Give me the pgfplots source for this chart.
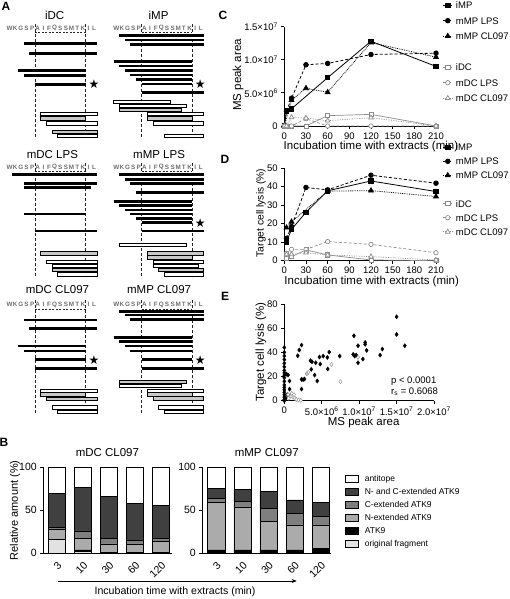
\documentclass[border=0pt]{standalone}
\usepackage{fontspec}
\setmainfont{Liberation Sans}
\newfontfamily\dejavu{DejaVu Sans}
\usepackage{pgfplots}
\pgfplotsset{compat=1.18}
\usetikzlibrary{arrows.meta}
\definecolor{gline}{HTML}{8C8C8C}
\definecolor{obgray}{HTML}{C8C8C8}
\definecolor{cOrig}{HTML}{E2E2E2}
\definecolor{cN}{HTML}{ABABAB}
\definecolor{cC}{HTML}{7F7F7F}
\definecolor{cNC}{HTML}{404040}
\definecolor{resgray}{HTML}{6E6E6E}
\newcommand\fs[1]{\fontsize{#1}{#1}\selectfont}
\tikzset{res/.style={font=\bfseries\fs{6.3}, text=resgray, inner sep=0pt},
 ttl/.style={font=\fs{11.5}, inner sep=0pt},
 star/.style={font=\dejavu\fs{12}, inner sep=0pt},
 lab/.style={font=\fs{11.5}, inner sep=0pt}}
\pgfplotsset{
 panelA/.style={scale only axis, axis lines=none, xmin=0, xmax=16, y dir=reverse, width=90.1pt, height=120pt, clip=false, anchor=north west},
 gp/.style={scale only axis, anchor=south west, axis x line*=bottom, axis y line*=left, tick align=outside, major tick length=3pt, axis line style={line width=0.8pt}, tick style={line width=0.8pt, black}, clip=false, /pgf/number format/assume math mode=true, tick label style={font=\fs{9.5}}, enlargelimits=false, scaled ticks=false},
 linleg/.style={legend image code/.code={\draw[mark repeat=2,mark phase=2,##1] plot coordinates {(0pt,0pt)(4.5pt,0pt)(9pt,0pt)};}, legend cell align=left},
 barleg/.style={legend image code/.code={\draw[##1,line width=0.6pt] (0pt,-3.2pt) rectangle (13pt,3.2pt);}},
 sIMP/.style={black, line width=0.8pt, mark=square*, mark size=2.2pt, mark options={solid}},
 sMLPS/.style={black, line width=0.8pt, dash pattern=on 3pt off 2pt, mark=*, mark size=2.3pt, mark options={solid}},
 sMCL/.style={black, line width=0.8pt, densely dotted, mark=triangle*, mark size=2.8pt, mark options={solid}},
 sIDC/.style={gline, line width=0.7pt, mark=square*, mark size=2.1pt, mark options={solid, fill=white}},
 sDLPS/.style={gline, line width=0.7pt, dash pattern=on 3pt off 2pt, mark=*, mark size=2.2pt, mark options={solid, fill=white}},
 sDCL/.style={gline, line width=0.7pt, densely dotted, mark=triangle*, mark size=2.7pt, mark options={solid, fill=white}},
 barB/.style={scale only axis, anchor=south west, ybar stacked, bar width=17.3pt, ymin=0, ymax=100, xmax=4.4, enlargelimits=false, axis x line*=bottom, axis y line*=left, tick align=outside, ytick={0,50,100}, xtick={0,...,4}, xticklabels={3,10,30,60,120}, major tick length=3pt, axis line style={line width=0.8pt}, tick style={line width=0.8pt, black}, xtick style={draw=none}, height=86pt, tick label style={font=\fs{10.5}}, xticklabel style={rotate=45, anchor=north east}, title style={font=\fs{11.5}, anchor=base, at={(0.5,1)}, yshift=4.9pt}, every axis plot/.append style={draw=black, line width=0.6pt, barleg}, /pgf/number format/assume math mode=true, clip=false}
}
\newcommand\bb[3]{\addplot[black, line width=2.7pt] coordinates {(#1,#3)(#2,#3)};}
\newcommand\ob[4]{\pgfmathsetmacro\ya{#3-1.6}\pgfmathsetmacro\yb{#3+1.6}%
 \addplot[draw=black, line width=0.55pt, fill=#4] coordinates {(#1,\ya)(#2,\ya)(#2,\yb)(#1,\yb)} --cycle;}
\newcommand\dframe[3]{%
 \addplot[black!85, line width=0.35pt, dash pattern=on 3pt off 2pt] coordinates {(5,#1)(5,#2)};
 \addplot[black!85, line width=0.35pt, dash pattern=on 3pt off 2pt] coordinates {(14,#1)(14,#2)};
 \addplot[black!85, line width=0.35pt, dash pattern=on 2pt off 1.5pt] coordinates {(5,#3)(14,#3)};}
\newcommand\resrow[1]{%
 \node[res] at (axis cs:0.5,#1) {W};\node[res] at (axis cs:1.5,#1) {K};
 \node[res] at (axis cs:2.5,#1) {G};\node[res] at (axis cs:3.5,#1) {S};
 \node[res] at (axis cs:4.5,#1) {P};\node[res] at (axis cs:5.5,#1) {A};
 \node[res] at (axis cs:6.5,#1) {I};\node[res] at (axis cs:7.5,#1) {F};
 \node[res] at (axis cs:8.5,#1) {Q};\node[res] at (axis cs:9.5,#1) {S};
 \node[res] at (axis cs:10.5,#1) {S};\node[res] at (axis cs:11.5,#1) {M};
 \node[res] at (axis cs:12.5,#1) {T};\node[res] at (axis cs:13.5,#1) {K};
 \node[res] at (axis cs:14.5,#1) {I};\node[res] at (axis cs:15.5,#1) {L};}
\begin{document}
\begin{tikzpicture}
\useasboundingbox (0,0) rectangle (509pt,599pt);
% panel letters
\node[font=\bfseries\fs{12}] at (6pt,593pt) {A};
\node[font=\bfseries\fs{12}] at (4pt,157pt) {B};
\node[font=\bfseries\fs{12}] at (223pt,584pt) {C};
\node[font=\bfseries\fs{12}] at (225pt,440pt) {D};
\node[font=\bfseries\fs{12}] at (225pt,302.3pt) {E};

% ===== Panel A, row 1
\begin{axis}[panelA, at={(6.8pt,579pt)}, ymin=20, ymax=140]
\node[ttl] at (axis cs:8.5,15) {iDC};
\resrow{28}
\dframe{24}{138}{32.3}
\bb{3}{16}{43.7}\bb{4}{16}{53.3}\bb{2}{14}{70.7}\bb{3}{14}{75.3}\bb{5}{14}{84.3}
\node[star] at (axis cs:15.5,84.3) {★};
\ob{6}{16}{114}{white}\ob{6}{14}{118.3}{obgray}\ob{7}{16}{123.3}{white}
\ob{8}{16}{131.7}{obgray}\ob{9}{16}{136}{white}
\end{axis}
\begin{axis}[panelA, at={(113.5pt,579pt)}, ymin=20, ymax=140]
\node[ttl] at (axis cs:8,15) {iMP};
\resrow{28}
\dframe{24}{138}{32.3}
\bb{1}{16}{35.7}\bb{2}{16}{40}\bb{3}{16}{44.3}
\bb{0}{14}{61.7}\bb{1}{14}{66}\bb{2}{14}{70.7}\bb{3}{14}{75}\bb{4}{14}{79.3}\bb{5}{14}{84}
\bb{5}{16}{92.7}
\node[star] at (axis cs:15.4,84.3) {★};
\ob{0}{10}{101.7}{white}\ob{1}{13}{106}{white}\ob{1}{12}{110}{obgray}
\ob{6}{16}{114}{white}\ob{6}{14}{118.3}{obgray}\ob{7}{16}{123.3}{white}\ob{9}{16}{136}{white}
\end{axis}
% ===== Panel A, row 2
\begin{axis}[panelA, at={(6.8pt,439pt)}, ymin=160, ymax=280]
\node[ttl] at (axis cs:8.1,155) {mDC LPS};
\resrow{167}
\dframe{163}{278}{171.3}
\bb{1}{16}{174.3}\bb{3}{16}{183.3}\bb{3}{15}{187.7}\bb{3}{14}{214}\bb{5}{16}{231}
\ob{6}{16}{253.3}{obgray}\ob{7}{16}{262}{white}\ob{8}{16}{266}{white}
\ob{8}{16}{270}{obgray}\ob{9}{16}{274.3}{white}
\end{axis}
\begin{axis}[panelA, at={(113.5pt,439pt)}, ymin=160, ymax=280]
\node[ttl] at (axis cs:8.1,155) {mMP LPS};
\resrow{167}
\dframe{163}{278}{171.3}
\bb{1}{16}{174.3}\bb{2}{16}{179.3}\bb{3}{16}{183.3}\bb{4}{16}{192.3}
\bb{0}{14}{201.7}\bb{1}{14}{205.7}\bb{2}{14}{210}\bb{3}{14}{214}\bb{4}{14}{218.3}\bb{5}{14}{222.7}
\bb{5}{16}{231}
\node[star] at (axis cs:15.4,223.3) {★};
\ob{1}{13}{245}{white}\ob{6}{16}{253.3}{obgray}\ob{6}{14}{257.3}{obgray}
\ob{7}{16}{262}{white}\ob{7}{15}{266}{white}\ob{8}{16}{270}{obgray}\ob{9}{16}{274.3}{white}
\end{axis}
% ===== Panel A, row 3
\begin{axis}[panelA, at={(6.8pt,303pt)}, ymin=296, ymax=416]
\node[ttl] at (axis cs:9,290) {mDC CL097};
\resrow{304.5}
\dframe{300.5}{414}{308.8}
\bb{3}{16}{320}\bb{4}{16}{328.3}\bb{2}{14}{346}\bb{3}{14}{351}\bb{5}{14}{359.3}\bb{5}{16}{368.3}
\node[star] at (axis cs:15.5,360) {★};
\ob{6}{16}{390.7}{white}\ob{6}{14}{394.3}{obgray}\ob{7}{16}{399}{obgray}
\ob{8}{16}{407.3}{white}\ob{9}{16}{411.7}{white}
\end{axis}
\begin{axis}[panelA, at={(113.5pt,303pt)}, ymin=296, ymax=416]
\node[ttl] at (axis cs:8.1,290) {mMP CL097};
\resrow{304.5}
\dframe{300.5}{414}{308.8}
\bb{1}{16}{311.7}\bb{2}{16}{315}\bb{3}{16}{319.3}
\bb{0}{14}{337.7}\bb{1}{14}{341.7}\bb{2}{14}{346}\bb{3}{14}{351}\bb{5}{14}{359.3}\bb{5}{16}{368.3}
\node[star] at (axis cs:15.4,360) {★};
\ob{1}{13}{381.7}{obgray}\ob{1}{12}{385.7}{white}\ob{6}{16}{390.7}{white}
\ob{6}{14}{394.3}{obgray}\ob{7}{16}{398.3}{obgray}\ob{8}{16}{407.3}{white}\ob{9}{16}{411.7}{white}
\end{axis}

% ===== Panel C
\begin{axis}[gp, linleg, at={(284.3pt,473pt)}, width=151.7pt, height=99.3pt,
 xmin=0, xmax=210, ymin=0, ymax=1.5e7, xtick={0,30,...,210},
 ytick={0,5e6,1e7,1.5e7},
 yticklabels={0,{5.0×10\textsuperscript{6}},{1.0×10\textsuperscript{7}},{1.5×10\textsuperscript{7}}},
 legend style={at={(axis description cs:1.044,1.254)}, anchor=north west, draw=none, fill=none, inner sep=0pt, row sep=8.5pt, font=\fs{9.5}, nodes={inner sep=0pt, text height=7pt, text depth=0pt}, /tikz/every odd column/.append style={column sep=3.3pt}}]
\addplot[sIMP] coordinates {(0,0)(3,2.3e6)(10,2.6e6)(60,7.3e6)(120,1.28e7)(210,9.0e6)};
\addlegendentry{iMP}
\addplot[sMLPS] coordinates {(0,0)(3,2.2e6)(10,4.2e6)(30,9.25e6)(60,9.45e6)(120,1.08e7)(210,1.1e7)};
\addlegendentry{mMP LPS}
\addplot[sMCL] coordinates {(0,0)(10,3.9e6)(30,5.7e6)(60,5.1e6)(120,1.26e7)(210,1.04e7)};
\addlegendentry{mMP CL097}
\addlegendimage{empty legend}\addlegendentry{}
\addplot[sIDC] coordinates {(0,0)(3,0)(10,0)(30,0)(60,1.57e6)(120,1.75e6)(210,0)};
\addlegendentry{iDC}
\addplot[sDLPS] coordinates {(0,0)(3,0)(10,0)(30,1.1e6)(60,0)(120,0)(210,0)};
\addlegendentry{mDC LPS}
\addplot[sDCL] coordinates {(0,0)(3,0)(10,1.3e6)(30,1.2e6)(60,0.8e6)(120,1.25e6)(210,0)};
\addlegendentry{mDC CL097}
\node[lab] at (axis description cs:0.571,-0.207) {Incubation time with extracts (min)};
\node[lab, rotate=90] at (axis description cs:-0.305,0.514) {MS peak area};
\end{axis}

% ===== Panel D
\begin{axis}[gp, linleg, at={(284.3pt,338.3pt)}, width=151.7pt, height=92.7pt,
 xmin=0, xmax=210, ymin=0, ymax=50, xtick={0,30,...,210}, ytick={0,10,...,50},
 legend style={at={(axis description cs:1.044,1.264)}, anchor=north west, draw=none, fill=none, inner sep=0pt, row sep=7.1pt, font=\fs{9.5}, nodes={inner sep=0pt, text height=7pt, text depth=0pt}, /tikz/every odd column/.append style={column sep=3.3pt}}]
\addplot[sIMP] coordinates {(3,10.1)(10,16.9)(30,26.1)(60,37.7)(120,43)(210,37.3)};
\addlegendentry{iMP}
\addplot[sMLPS] coordinates {(3,12.1)(10,18.4)(30,39.5)(60,38.2)(120,46.1)(210,41.8)};
\addlegendentry{mMP LPS}
\addplot[sMCL] coordinates {(3,17.8)(10,21)(60,37.5)(120,37.8)(210,34.6)};
\addlegendentry{mMP CL097}
\addlegendimage{empty legend}\addlegendentry{}
\addplot[sIDC] coordinates {(3,1.1)(10,2.2)(30,5.8)(60,3.1)(120,0.4)(210,0)};
\addlegendentry{iDC}
\addplot[sDLPS] coordinates {(3,4)(10,6.1)(30,6.1)(60,10.3)(120,8.8)(210,4.3)};
\addlegendentry{mDC LPS}
\addplot[sDCL] coordinates {(3,3.4)(10,3.4)(30,4.3)(60,3.1)(120,2.2)(210,0.4)};
\addlegendentry{mDC CL097}
\node[lab] at (axis description cs:0.576,-0.222) {Incubation time with extracts (min)};
\node[lab, rotate=90, font=\fs{10.3}] at (axis description cs:-0.154,0.515) {Target cell lysis (\%)};
\end{axis}

% ===== Panel E
\begin{axis}[gp, at={(284.3pt,198.3pt)}, width=149.7pt, height=96.7pt,
 xmin=0, xmax=2e7, ymin=0, ymax=80, ytick={0,20,...,80},
 xtick={0,5e6,1e7,1.5e7,2e7},
 xticklabels={0,{5.0×10\textsuperscript{6}},{1.0×10\textsuperscript{7}},{1.5×10\textsuperscript{7}},{2.0×10\textsuperscript{7}}}]
\addplot[only marks, mark=diamond*, mark size=2.1pt, black] coordinates {
(15.0e6,69.4)(15.0e6,54.8)(16.1e6,45.5)(9.3e6,53.7)(10.8e6,48.2)(10.8e6,46.6)(9.85e6,45.5)
(11.0e6,41.6)(13.1e6,42.7)(12.8e6,37.7)(9.2e6,38.3)(9.4e6,36.9)(9.6e6,37.7)(9.85e6,31.4)
(10.5e6,34.4)(7.4e6,36.9)(6.0e6,40.2)(5.75e6,35.8)(5.8e6,26.2)(5.2e6,36.9)(4.7e6,36.1)
(4.8e6,30.3)(4.2e6,31.4)(3.5e6,33.1)(3.7e6,32.2)(3.6e6,25.9)(4.05e6,21.2)(4.4e6,16.3)
(2.3e6,46.0)(2.0e6,41.9)(1.8e6,37.2)(2.3e6,17.6)(2.5e6,17.4)(2.7e6,17.9)(2.3e6,9.6)
(0.7e6,16.3)(0.7e6,9.6)(0.85e6,4.7)(0.5e6,21.2)(0.3e6,22)(0.4e6,5)(0.2e6,2)
(0,44)(0,40)(0,37)(0,34)(0,31)(0,28)(0,25)(0,23)(0,21)(0,19)(0,16)(0,13)(0,11)
(0,9)(0,7)(0,5)(0,3)(0,1)(0,0)};
\addplot[only marks, mark=diamond*, mark size=2.1pt, gline, mark options={fill=white}] coordinates {
(6.3e6,30.0)(3.2e6,23.4)(9.85e6,35.8)(7.5e6,15.7)(0.5e6,5)(0.9e6,4)(1.2e6,3)(1.4e6,2)
(1.6e6,1)(1.9e6,0.5)(1.0e6,6)(0.6e6,2)(2.2e6,0.3)(1.3e6,5)};
\addplot[only marks, mark=diamond*, mark size=2.1pt, gline, mark options={fill=obgray}] coordinates {(3.0e6,22.3)};
\node[anchor=west, font=\fs{9.5}] at (axis description cs:0.69,0.204) {p < 0.0001};
\node[anchor=west, font=\fs{9.5}] at (axis description cs:0.69,0.093) {r\textsubscript{s} = 0.6068};
\node[lab] at (axis description cs:0.53,-0.223) {MS peak area};
\node[lab, rotate=90] at (axis description cs:-0.156,0.504) {Target cell lysis (\%)};
\end{axis}

% ===== Panel B
\begin{axis}[barB, at={(43.3pt,45.7pt)}, width=128.2pt, xmin=-0.53, title={mDC CL097}]
\addplot[fill=cOrig] coordinates {(0,16)(1,2)(2,0)(3,0)(4,0)};
\addplot[fill=black] coordinates {(0,0)(1,2)(2,1)(3,1)(4,1)};
\addplot[fill=cN] coordinates {(0,12)(1,13)(2,10)(3,10)(4,13)};
\addplot[fill=cC] coordinates {(0,2)(1,9)(2,6)(3,4)(4,3)};
\addplot[fill=cNC] coordinates {(0,40)(1,51)(2,49)(3,43)(4,39)};
\addplot[fill=white] coordinates {(0,30)(1,23)(2,34)(3,42)(4,44)};
\node[lab, rotate=90, font=\fs{11}] at (axis description cs:-0.221,0.5) {Relative amount (\%)};
\end{axis}
\begin{axis}[barB, at={(202.3pt,45.7pt)}, width=128.9pt, xmin=-0.54, title={mMP CL097},
 reverse legend, legend cell align=left,
 legend style={at={(axis description cs:1.107,0.91)}, anchor=north west, draw=none, fill=none, inner sep=0pt, row sep=6pt, font=\fs{8.5}, nodes={inner sep=0pt, text height=6pt, text depth=0pt}, /tikz/every odd column/.append style={column sep=6pt}}]
\addplot[fill=cOrig] coordinates {(0,0)(1,0)(2,0)(3,0)(4,0)};
\addlegendentry{original fragment}
\addplot[fill=black] coordinates {(0,4)(1,4)(2,4)(3,4)(4,6)};
\addlegendentry{ATK9}
\addplot[fill=cN] coordinates {(0,55)(1,50)(2,33)(3,29)(4,27)};
\addlegendentry{N-extended ATK9}
\addplot[fill=cC] coordinates {(0,5)(1,6)(2,15)(3,13)(4,10)};
\addlegendentry{C-extended ATK9}
\addplot[fill=cNC] coordinates {(0,11)(1,14)(2,20)(3,16)(4,16)};
\addlegendentry{N- and C-extended ATK9}
\addplot[fill=white] coordinates {(0,25)(1,26)(2,28)(3,38)(4,41)};
\addlegendentry{antitope}
\end{axis}
\draw[-{Stealth[length=5pt,width=4pt]}, line width=0.6pt] (58.3pt,18pt) -- (296.7pt,18pt);
\node[font=\fs{10.6}] at (175pt,7.3pt) {Incubation time with extracts (min)};
\end{tikzpicture}
\end{document}
